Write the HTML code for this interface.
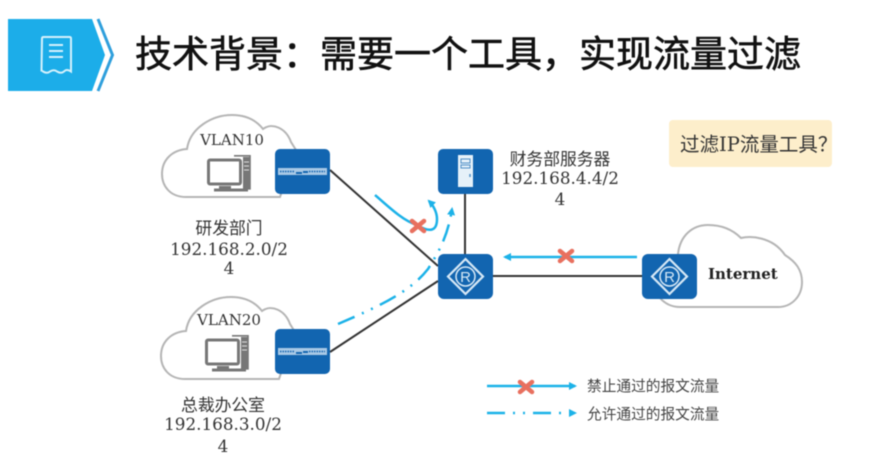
<!DOCTYPE html>
<html lang="zh">
<head>
<meta charset="utf-8">
<title>技术背景</title>
<style>
html,body{margin:0;padding:0;background:#fff;width:891px;height:465px;overflow:hidden}
svg{display:block;filter:blur(.4px)}
text{font-family:"DejaVu Serif","Noto Sans CJK SC",serif;fill:#333}
.sans{font-family:"Liberation Sans","Noto Sans CJK SC",sans-serif}
</style>
</head>
<body>
<svg width="891" height="465" viewBox="0 0 891 465" xmlns="http://www.w3.org/2000/svg">
<defs>
<marker id="a" markerWidth="10" markerHeight="10" refX="6" refY="4" orient="auto" markerUnits="userSpaceOnUse"><path d="M0 0L8 4L0 8Z" fill="#1cb2e8"/></marker>
<path id="cloud" d="M186 197C170 197 162 186 162 174C162 160 172 150 187 149C190 128 212 115 232 115C246 115 256 120 263 129C272 122 286 128 291 142L296 150L280 197Z" fill="#fff" stroke="#b5b5b5" stroke-width="2"/>
<g id="pc" fill="none" stroke="#777">
<rect x="1.500" y="5" width="32" height="24" rx="1.500" stroke-width="3"/>
<path d="M12 31h12v3h-12z" fill="#777" stroke="none"/>
<path d="M7 35h34" stroke-width="3"/>
<path d="M27 0.800h16v33h-6" stroke-width="1.600"/>
<rect x="36" y="2" width="7" height="32" fill="#777" stroke="none"/>
<path d="M37 7h5M37 11h5M37 15h5" stroke="#ddd" stroke-width="1"/>
</g>
<g id="sw"><rect width="55" height="45" rx="5" fill="#1265b0"/>
<rect x="3" y="19" width="49" height="7" fill="#a9c9e6"/>
<path d="M5 22.500h14M34 22.500h16" stroke="#1265b0" stroke-width="1.500" stroke-dasharray="1.500 1"/>
<path d="M21 24h6M28 23h5" stroke="#1265b0" stroke-width="2"/>
</g>
<g id="r"><rect width="55" height="45" rx="6" fill="#1265b0"/>
<path d="M27.500 5L45 22.500L27.500 40L10 22.500Z" fill="none" stroke="#d6e8f6" stroke-width="2.200"/>
<circle cx="27.500" cy="22.500" r="9.500" fill="none" stroke="#d6e8f6" stroke-width="1.500"/>
<text x="27.500" y="28" text-anchor="middle" class="sans" font-size="15" style="fill:#d6e8f6">R</text>
</g>
<g id="x"><path d="M-6-5L6 5M6-5L-6 5" stroke="#e8705f" stroke-width="4.500" stroke-linecap="round"/></g>
</defs>

<!-- header -->
<path d="M8 19H92L105 55L92 91H8Z" fill="#1cade9"/>
<path d="M98 19L112.500 55L98 91" fill="none" stroke="#2f9fdc" stroke-width="3"/>
<path d="M42 38.500q0-1.500 1.500-1.500h26q1.500 0 1.500 1.500v33q-4.500-3-7 0q-3 2.500-7 0q-3-2.500-7 0q-3 2.500-7 0q-1-1-1.500-1z" fill="none" stroke="#d5f1fc" stroke-width="2"/>
<path d="M49 45h14M49 51h14M49 57h14" stroke="#d5f1fc" stroke-width="2"/>
<text x="135" y="67" class="sans" font-size="37" style="fill:#111;stroke:#111;stroke-width:.6">技术背景&#xFF1A;需要一个工具&#xFF0C;实现流量过滤</text>

<!-- links -->
<g stroke="#333" stroke-width="2" fill="none">
<path d="M330 170L438 266"/>
<path d="M330 352L438 281"/>
<path d="M465 190V254"/>
<path d="M493 276H643"/>
</g>

<!-- clouds -->
<use href="#cloud"/>
<use href="#cloud" transform="translate(-1 182)"/>
<path d="M678 254C680 236 692 225 708 225C722 225 733 230 741 238C750 236 772 236 785 255C796 262 802 270 802 282C802 296 792 307 778 307L680 307Q668 307 660 298L670 290Z" fill="#fff" stroke="#b5b5b5" stroke-width="2"/>

<use href="#pc" x="207" y="155"/>
<use href="#pc" x="205" y="335"/>

<use href="#sw" x="275" y="149"/>
<use href="#sw" x="275" y="329"/>

<!-- server -->
<rect x="438" y="149" width="55" height="45" rx="5" fill="#1265b0"/>
<rect x="458" y="155" width="15" height="32" fill="#e6f1f9"/>
<path d="M461 159h9v4h-9zM461 165h9v3h-9z" fill="none" stroke="#4f8fc6" stroke-width="1"/>
<path d="M470 174v3" stroke="#4f8fc6" stroke-width="1.500"/>

<use href="#r" x="438" y="254"/>
<use href="#r" x="642" y="254"/>

<!-- flows -->
<path d="M375 195C392 210 404 221 417 225C430 233 437 231 437 219C437 212 433 205 429 201" fill="none" stroke="#1cb2e8" stroke-width="2.500" marker-end="url(#a)"/>
<use href="#x" x="418" y="226"/>
<path d="M338 324C380 306 410 292 428 269C440 250 448 235 452 209" fill="none" stroke="#1cb2e8" stroke-width="2.500" stroke-dasharray="18 8 2 8 2 8" marker-end="url(#a)"/>
<path d="M637 257H505" fill="none" stroke="#1cb2e8" stroke-width="2.500" marker-end="url(#a)"/>
<use href="#x" x="566" y="256"/>

<!-- labels -->
<text x="232" y="145" text-anchor="middle" font-size="15">VLAN10</text>
<text x="229" y="325" text-anchor="middle" font-size="15">VLAN20</text>
<g font-size="16.800" text-anchor="middle">
<text x="229" y="234">研发部门</text>
<text x="229" y="255">192.168.2.0/2</text>
<text x="229" y="274">4</text>
<text x="223" y="411">总裁办公室</text>
<text x="223" y="430">192.168.3.0/2</text>
<text x="223" y="452">4</text>
<text x="560" y="165">财务部服务器</text>
<text x="560" y="184">192.168.4.4/2</text>
<text x="560" y="205">4</text>
</g>
<text x="708" y="279" font-size="15" font-weight="bold" style="fill:#222">Internet</text>

<!-- callout -->
<rect x="669" y="120" width="163" height="47" rx="4" fill="#fdeecb"/>
<text x="680" y="151" font-size="19.500" style="fill:#333">过滤IP流量工具&#xFF1F;</text>

<!-- legend -->
<path d="M487 386H575" stroke="#1cb2e8" stroke-width="2.500" fill="none" marker-end="url(#a)"/>
<use href="#x" x="526" y="387"/>
<path d="M487 413H575" stroke="#1cb2e8" stroke-width="2.500" fill="none" stroke-dasharray="18 8 2 8 2 8" marker-end="url(#a)"/>
<text x="587" y="391" class="sans" font-size="14.700" style="fill:#444">禁止通过的报文流量</text>
<text x="587" y="419" class="sans" font-size="14.700" style="fill:#444">允许通过的报文流量</text>
</svg>
</body>
</html>
